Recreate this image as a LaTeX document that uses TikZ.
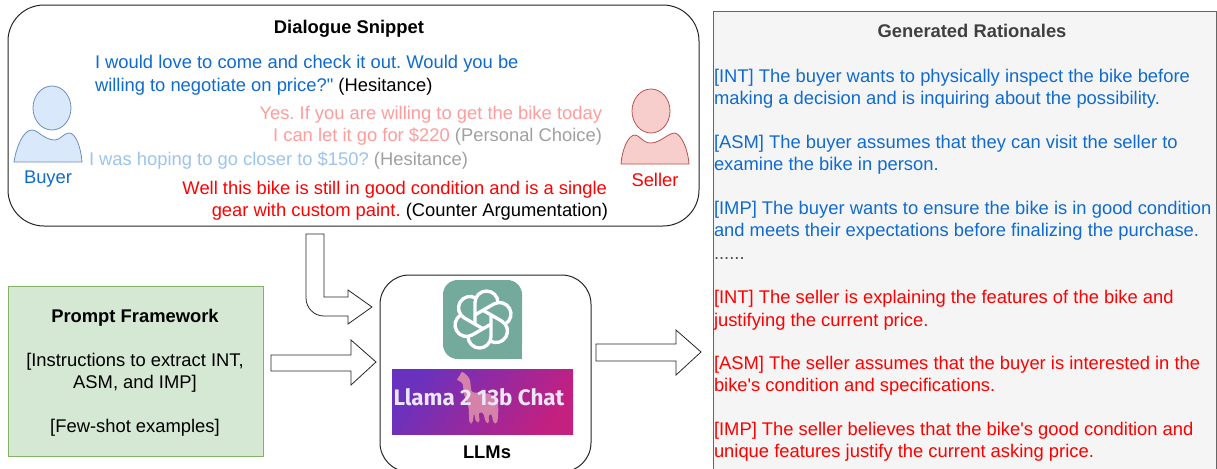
\documentclass[tikz,border=0pt]{standalone}
\usepackage{fontspec}
\newfontfamily\lib{Liberation Sans}
\newfontfamily\llfont{Fira Sans}
\frenchspacing
\definecolor{buyerblue}{HTML}{0F6BD0}
\definecolor{paleblue}{HTML}{9CC4EE}
\definecolor{palered}{HTML}{FF9C9C}
\definecolor{greytxt}{HTML}{A0A0A0}
\definecolor{genred}{HTML}{FF0000}
\definecolor{logogreen}{HTML}{74AA9C}
\definecolor{pfill}{HTML}{D5E8D4}\definecolor{pline}{HTML}{82B366}
\definecolor{bfill}{HTML}{DAE8FC}\definecolor{bline}{HTML}{6C8EBF}
\definecolor{sfill}{HTML}{F8CECC}\definecolor{sline}{HTML}{B85450}
\definecolor{gradA}{RGB}{105,50,190}\definecolor{gradM}{RGB}{145,42,158}\definecolor{gradB}{RGB}{195,32,128}
\tikzset{
  txt/.style={inner sep=0pt,outer sep=0pt,font=\lib\frenchspacing\fontsize{13.78}{16}\selectfont},
  lft/.style={txt,anchor=base west},
  rgt/.style={txt,anchor=base east},
  mid/.style={txt,anchor=base},
  ttl/.style={mid,font=\lib\bfseries\fontsize{13.78}{16}\selectfont},
  ratb/.style={lft,text=buyerblue},
  ratr/.style={lft,text=genred},
  blockarrow/.style={draw=black!85,fill=white,line width=0.6pt,line join=miter},
  panel/.style={draw=black!85,fill=white,line width=0.75pt},
  knot/.style={draw=white,line width=2.5pt,line cap=butt,line join=round},
}
\begin{document}
\begin{tikzpicture}[x=0.75pt,y=-0.75pt]
\useasboundingbox (0,0) rectangle (1217,468);
\clip (0,0) rectangle (1217,468);
% panels
\draw[panel,rounded corners=27pt] (8,5) rectangle (699,226);
\draw[draw=black!60,fill=black!4,line width=0.75pt] (713,11) rectangle (1216,480);
\draw[draw=pline,fill=pfill,line width=0.6pt] (8,286) rectangle (263,456);
\draw[panel,rounded corners=22pt] (380,275) rectangle (591,472);
% buyer
\draw[fill=bfill,draw=bline,line width=0.6pt] (52,108) ellipse [x radius=19,y radius=22];
\draw[fill=bfill,draw=bline,line width=0.6pt] (14,162) .. controls (16,148) and (23,130) .. (32,130) .. controls (38,130) and (44,140) .. (55,140) .. controls (60,140) and (64,133) .. (69,133) .. controls (76,133) and (81,148) .. (82,162) -- cycle;
% seller
\draw[fill=sfill,draw=sline,line width=0.6pt] (651,111) ellipse [x radius=19,y radius=22];
\draw[fill=sfill,draw=sline,line width=0.6pt] (621,164) .. controls (622,150) and (628,135) .. (635,135) .. controls (640,135) and (642,143) .. (651,143) .. controls (660,143) and (668,133) .. (675,133) .. controls (682,135) and (688,150) .. (689,164) -- cycle;
% dialogue text
\node[ttl] (dtitle) at (349,33) {Dialogue Snippet};
\node[lft,text=buyerblue] (d1) at (95,68) {I would love to come and check it out. Would you be};
\node[lft] (d2) at (95,91) {\textcolor{buyerblue}{willing to negotiate on price?"} (Hesitance)};
\node[rgt,text=palered] (d3) at (602,119) {Yes. If you are willing to get the bike today};
\node[rgt] (d4) at (602,141) {\textcolor{palered}{I can let it go for \$220} \textcolor{greytxt}{(Personal Choice)}};
\node[lft] (d5) at (89,165) {\textcolor{paleblue}{I was hoping to go closer to \$150?} \textcolor{greytxt}{(Hesitance)}};
\node[rgt,text=genred] (d6) at (607,194) {Well this bike is still in good condition and is a single};
\node[rgt] (d7) at (608,216) {\textcolor{genred}{gear with custom paint.} (Counter Argumentation)};
\node[mid,text=buyerblue] (buyer) at (48,183) {Buyer};
\node[mid,text=genred] (seller) at (655,186) {Seller};
% prompt
\node[ttl] (ptitle) at (135,322) {Prompt Framework};
\node[mid] (p1) at (135,366) {[Instructions to extract INT,};
\node[mid] (p2) at (135,388) {ASM, and IMP]};
\node[mid] (p3) at (135,432) {[Few-shot examples]};
% arrows
\draw[blockarrow] (306,234) -- (324,234) -- (324,297) -- (348,297) -- (348,290) -- (372,307) -- (348,324) -- (348,316) -- (324,316) arc[start angle=90,end angle=180,radius=18] -- cycle;
\draw[blockarrow] (271,355) -- (351,355) -- (351,340) -- (376,362) -- (351,385) -- (351,371) -- (271,371) -- cycle;
\draw[blockarrow] (596,344) -- (676,344) -- (676,330) -- (701,352) -- (676,375) -- (676,361) -- (596,361) -- cycle;
% openai logo
\fill[logogreen,rounded corners=11pt] (443,280) -- (443,359) -- (522,359) -- (522,280) -- cycle;
\fill[logogreen] (505,340) rectangle (522,359);
\begin{scope}[shift={(483,319.5)}]
\foreach \a in {0,60,...,300}{
  \begin{scope}[rotate=\a]
  \draw[knot] (-8,4.6) -- (-8,-17) arc[start angle=180,end angle=360,radius=11.5];
  \end{scope}
}
\end{scope}
% llama banner
\shade[left color=gradA,middle color=gradM,right color=gradB,shading angle=55] (392,369) rectangle (573,434);
\begin{scope}[shift={(390,365)},x=0.25pt,y=-0.25pt]
\fill[fill={rgb,255:red,212;green,130;blue,170},rounded corners=2pt] (213,18) -- (226,26) -- (240,42) -- (244,82) -- (300,86) -- (324,105) -- (325,140) -- (322,175) -- (310,175) -- (305,145) -- (295,150) -- (298,175) -- (287,173) -- (280,142) -- (265,142) -- (270,172) -- (258,172) -- (252,142) -- (248,175) -- (238,175) -- (236,125) -- (222,90) -- (218,52) -- (204,48) -- (200,40) -- (212,32) -- cycle;
\end{scope}
\node[mid,font=\llfont\bfseries\fontsize{16.8}{18}\selectfont,text={rgb,255:red,235;green,230;blue,250}] (llama) at (479,405) {Llama 2 13b Chat};
\node[ttl] (llms) at (487,458) {LLMs};
% rationales
\node[mid,font=\lib\bfseries\fontsize{13.78}{16}\selectfont,text=black!75] (rtitle) at (972,37) {Generated Rationales};
\node[ratb] (r1) at (714,82) {[INT] The buyer wants to physically inspect the bike before};
\node[ratb] (r2) at (714,104) {making a decision and is inquiring about the possibility.};
\node[ratb] (r3) at (714,148) {[ASM] The buyer assumes that they can visit the seller to};
\node[ratb] (r4) at (714,170) {examine the bike in person.};
\node[ratb] (r5) at (714,214) {[IMP] The buyer wants to ensure the bike is in good condition};
\node[ratb] (r6) at (714,236) {and meets their expectations before finalizing the purchase.};
\node[lft,text=black!70] (r7) at (714,259) {......};
\node[ratr] (r8) at (714,303) {[INT] The seller is explaining the features of the bike and};
\node[ratr] (r9) at (714,326) {justifying the current price.};
\node[ratr] (r10) at (714,369) {[ASM] The seller assumes that the buyer is interested in the};
\node[ratr] (r11) at (714,391) {bike's condition and specifications.};
\node[ratr] (r12) at (714,435) {[IMP] The seller believes that the bike's good condition and};
\node[ratr] (r13) at (714,457) {unique features justify the current asking price.};
\end{tikzpicture}
\end{document}
